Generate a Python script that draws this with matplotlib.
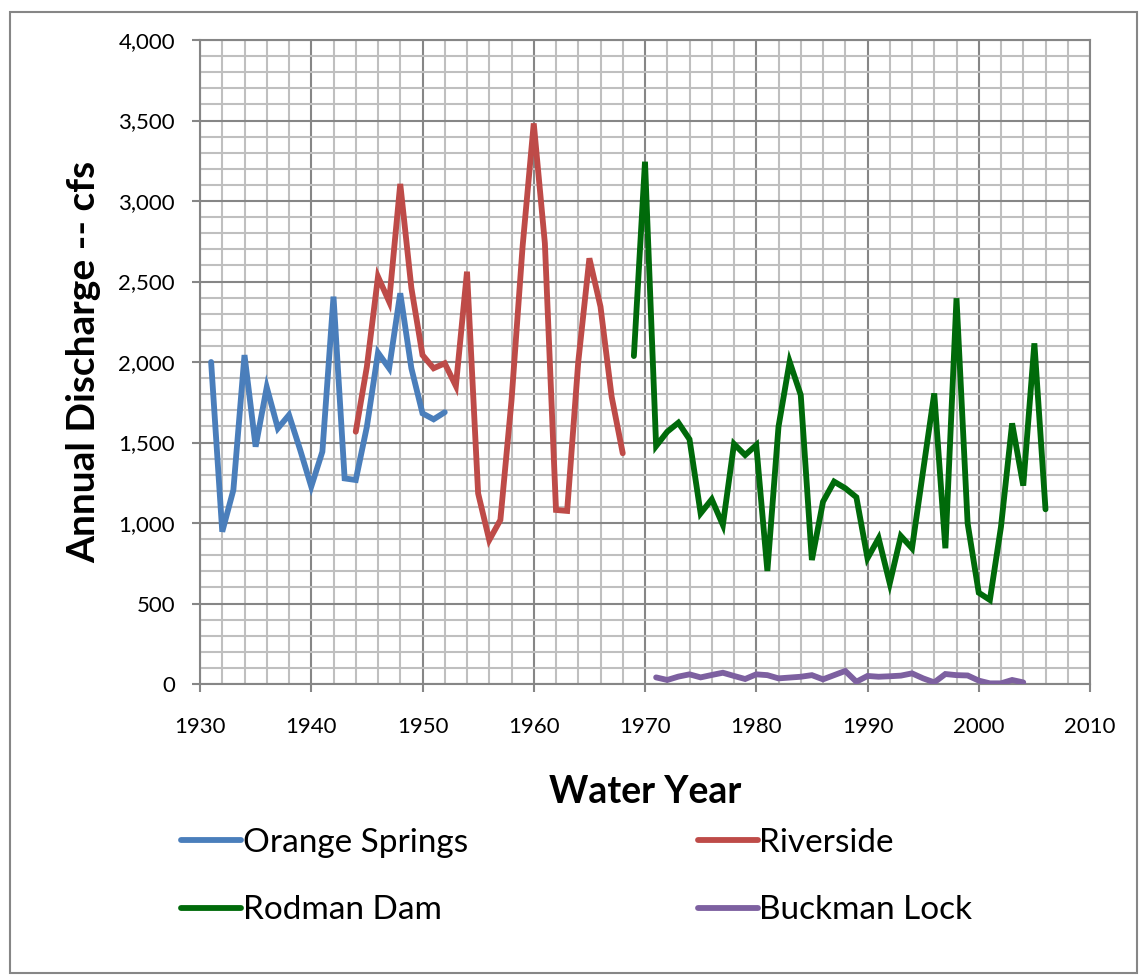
import matplotlib
matplotlib.use("Agg")
import matplotlib.pyplot as plt
from matplotlib.ticker import MultipleLocator, FuncFormatter
from matplotlib.patches import Rectangle

plt.rcParams['font.family'] = ['Lato', 'DejaVu Sans']

# ---- data ----
os_years = list(range(1931, 1953))
os_vals = [2000, 946, 1205, 2043, 1474, 1843, 1588, 1671, 1455, 1226, 1443,
           2406, 1277, 1267, 1598, 2058, 1961, 2427, 1961, 1681, 1644, 1688]

rs_years = list(range(1944, 1969))
rs_vals = [1567, 1971, 2530, 2375, 3106, 2460, 2043, 1961, 1992, 1851, 2561,
           1184, 894, 1019, 1760, 2720, 3482, 2737, 1081, 1075, 2000, 2644,
           2344, 1785, 1433]

rd_years = list(range(1969, 2007))
rd_vals = [2037, 3244, 1478, 1567, 1623, 1520, 1060, 1147, 988, 1491, 1422,
           1484, 702, 1598, 2002, 1795, 770, 1132, 1257, 1216, 1160, 781, 905,
           625, 919, 843, 1325, 1805, 843, 2396, 998, 567, 522, 977, 1619,
           1232, 2116, 1085]

bl_years = list(range(1971, 2005))
bl_vals = [41, 25, 46, 60, 41, 56, 70, 50, 31, 60, 55, 35, 40, 45, 55, 29,
           55, 81, 14, 50, 45, 48, 52, 66, 35, 10, 62, 55, 53, 21, 4, 4, 25, 10]

names = ["Orange Springs", "Riverside", "Rodman Dam", "Buckman Lock"]
colors = ["#4A7EBB", "#BE4B48", "#006A0A", "#7D60A0"]

# ---- figure ----
W, H = 1146, 975
fig = plt.figure(figsize=(W / 100, H / 100), dpi=100)
ax = fig.add_axes([200 / W, 1 - 684 / H, 890 / W, 644 / H])

grid_major = "#868686"
grid_minor = "#BFBFBF"

lines = []
for xs, ys, c, n in zip([os_years, rs_years, rd_years, bl_years],
                        [os_vals, rs_vals, rd_vals, bl_vals], colors, names):
    ln, = ax.plot(xs, ys, color=c, lw=4.2, label=n, solid_joinstyle='miter',
                  solid_capstyle='round', zorder=3)
    lines.append(ln)

ax.set_xlim(1930, 2010)
ax.set_ylim(0, 4000)
ax.xaxis.set_major_locator(MultipleLocator(10))
ax.xaxis.set_minor_locator(MultipleLocator(2))
ax.yaxis.set_major_locator(MultipleLocator(500))
ax.yaxis.set_minor_locator(MultipleLocator(100))
ax.yaxis.set_major_formatter(FuncFormatter(lambda v, p: f"{int(v):,}"))

ax.grid(which='minor', color=grid_minor, lw=1.5, zorder=0)
ax.grid(which='major', color=grid_major, lw=1.5, zorder=1)
ax.set_axisbelow(True)

for s in ax.spines.values():
    s.set_color(grid_major)
    s.set_linewidth(1.5)

ax.tick_params(which='major', length=6, width=1.5, color=grid_major,
               labelsize=16, labelcolor='black')
ax.tick_params(axis='y', which='major', pad=12)
ax.tick_params(axis='x', which='major', pad=18)
ax.tick_params(which='minor', length=0)

ax.set_ylabel("Annual Discharge -- cfs", fontsize=28, fontweight='bold',
              labelpad=12)
ax.set_xlabel("Water Year", fontsize=27, fontweight='bold', labelpad=27)

# legend, row-wise order
order = [0, 2, 1, 3]
fig.legend([lines[i] for i in order], [names[i] for i in order],
           ncol=2, loc='upper left', bbox_to_anchor=(181 / W, 1 - 828 / H),
           frameon=False, fontsize=24, handlelength=1.8, handletextpad=0.05,
           columnspacing=6.9, labelspacing=1.12, borderaxespad=0,
           borderpad=0)

# chart-area border
fig.patches.append(Rectangle((10 / W, 2 / H), 1127 / W, 1 - 14 / H,
                             transform=fig.transFigure, fill=False,
                             edgecolor=grid_major, lw=1.5))

fig.savefig("out.png", dpi=100)
